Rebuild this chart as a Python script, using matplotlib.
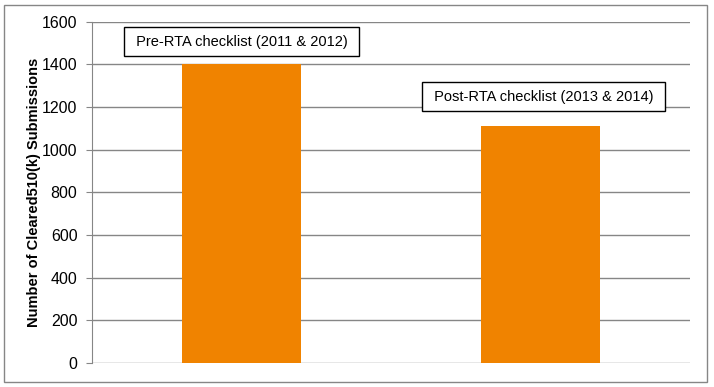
import numpy as np
import matplotlib
matplotlib.use("Agg")
import matplotlib.pyplot as plt
from matplotlib.patches import Rectangle

plt.rcParams['font.family'] = ['Liberation Sans', 'DejaVu Sans']

# datos
periodos = ["Pre-RTA checklist (2011 & 2012)", "Post-RTA checklist (2013 & 2014)"]
envios = [1400, 1110]
pos_etiqueta = [1505, 1248]
yticks = [0, 200, 400, 600, 800, 1000, 1200, 1400, 1600]

W, H = 714, 387
fig = plt.figure(figsize=(W / 100, H / 100), dpi=100)
ax = fig.add_axes([92 / W, (H - 363) / H, (690 - 92) / W, (363 - 21.5) / H])

gris = "#868686"
naranja = "#F08300"

x = np.arange(len(envios))
ax.bar(x, envios, width=0.4, color=naranja, zorder=3)

ax.set_xlim(-0.5, 1.5)
ax.set_ylim(0, 1600)
ax.set_yticks(yticks)
ax.set_yticklabels([str(t) for t in yticks], fontsize=11.5)
ax.set_xticks([])
ax.grid(axis="y", color=gris, linewidth=1, zorder=0)
for s in ["top", "right", "bottom"]:
    ax.spines[s].set_visible(False)
ax.spines["left"].set_color(gris)
ax.tick_params(axis="y", color=gris, length=4, pad=6.5)

ax.set_ylabel("Number of Cleared510(k) Submissions", fontsize=10.5,
              fontweight="bold")
ax.yaxis.set_label_coords(-(92 - 41) / (690 - 92), 0.5)

# cuadros de texto sobre cada barra
for i, (txt, yy) in enumerate(zip(periodos, pos_etiqueta)):
    ax.text(x[i] + 0.01 * i, yy, " " + txt + " ", ha="center", va="center",
            fontsize=10.5, zorder=5,
            bbox=dict(boxstyle="square,pad=0.5", fc="white", ec="black", lw=1))

# borde exterior
fig.patches.append(Rectangle((4 / W, 5 / H), 703 / W, 377 / H,
                             transform=fig.transFigure, fill=False,
                             edgecolor=gris, linewidth=1))

fig.savefig("out.png", dpi=100)
